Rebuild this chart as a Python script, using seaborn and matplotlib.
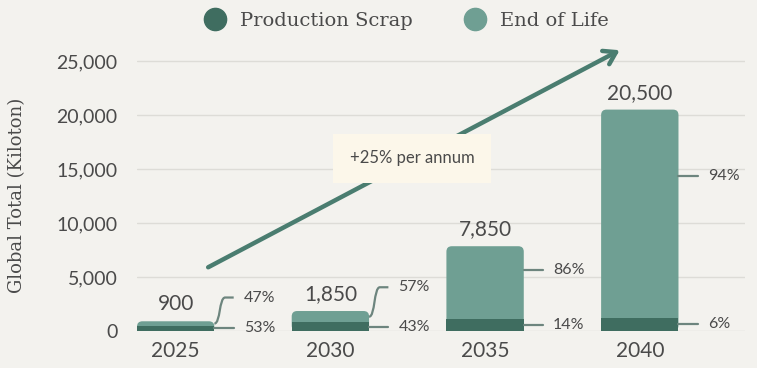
import numpy as np
import pandas as pd
import matplotlib
matplotlib.use("Agg")
import matplotlib.pyplot as plt
from matplotlib.path import Path
from matplotlib.patches import PathPatch, FancyBboxPatch
from matplotlib.lines import Line2D
import seaborn as sns

years = ["2025", "2030", "2035", "2040"]
totals = [900, 1850, 7850, 20500]
scrap = [477, 796, 1099, 1230]
scrap_pct = [53, 43, 14, 6]
eol_pct = [47, 57, 86, 94]
yticks = [0, 5000, 10000, 15000, 20000, 25000]

dark = "#3f6d60"
light = "#6f9f93"
txt = "#4a4a4a"
bg = "#f3f2ee"

df = pd.DataFrame({"year": years, "total": totals, "scrap": scrap})

sns.set_theme(style="white")
plt.rcParams["font.family"] = ["Lato", "DejaVu Sans"]

fig = plt.figure(figsize=(7.57, 3.68), dpi=100, facecolor=bg)
ax = fig.add_axes([137 / 757, 37 / 368, 608 / 757, 302.4 / 368])
ax.set_facecolor(bg)

sns.barplot(data=df, x="year", y="total", color=light, width=0.5,
            saturation=1, linewidth=0, ax=ax)
# round the top corners of the total bars
for p in list(ax.patches):
    x0, y0 = p.get_x(), p.get_y()
    w, h = p.get_width(), p.get_height()
    p.remove()
    ax.add_patch(FancyBboxPatch((x0, y0), w, h,
                                boxstyle="round,pad=0,rounding_size=0.035",
                                mutation_aspect=14300, fc=light, ec="none",
                                zorder=2))
sns.barplot(data=df, x="year", y="scrap", color=dark, width=0.5,
            saturation=1, linewidth=0, ax=ax, zorder=3)

ax.set_xlim(-0.25, 3.68)
ax.set_ylim(0, 28000)
ax.set_yticks(yticks)
ax.set_yticklabels([f"{v:,}" for v in yticks])
for y in yticks:
    ax.axhline(y, color="#dddcd7", lw=1, zorder=1)
sns.despine(ax=ax, left=True, bottom=True)
ax.tick_params(axis="y", length=0, pad=14, labelsize=14, labelcolor=txt)
ax.tick_params(axis="x", length=0, pad=7, labelsize=15, labelcolor=txt)
ax.set_xlabel("")
ax.set_ylabel("")

half = 0.25
lc = "#6d857e"
for i, (t, s, sp, ep) in enumerate(zip(totals, scrap, scrap_pct, eol_pct)):
    xr = i + half
    ax.annotate(f"{t:,}", (i, t), xytext=(0, 5), textcoords="offset points",
                ha="center", va="bottom", fontsize=15, color=txt)
    # production scrap label
    ym = s / 2
    ax.plot([xr, xr + 0.125], [ym, ym], color=lc, lw=1.6, zorder=4)
    ax.text(xr + 0.19, ym, f"{sp}%", fontsize=11.5, color=txt, va="center")
    # end of life label
    if t < 5000:
        y0 = s + (t - s) / 2
        y1 = t + 2200
        verts = [(xr, y0), (xr + 0.04, y0), (xr + 0.03, y1), (xr + 0.07, y1),
                 (xr + 0.125, y1)]
        codes = [Path.MOVETO, Path.CURVE4, Path.CURVE4, Path.CURVE4, Path.LINETO]
        ax.add_patch(PathPatch(Path(verts, codes), fill=False,
                               edgecolor=lc, lw=1.6, zorder=4))
        ax.text(xr + 0.19, y1, f"{ep}%", fontsize=11.5, color=txt, va="center")
    else:
        y1 = s + (t - s) * 0.68
        ax.plot([xr, xr + 0.125], [y1, y1], color=lc, lw=1.6, zorder=4)
        ax.text(xr + 0.19, y1, f"{ep}%", fontsize=11.5, color=txt, va="center")

# growth arrow
ax.annotate("", xy=(2.87, 26000), xytext=(0.21, 5900),
            arrowprops=dict(arrowstyle="->,head_length=0.7,head_width=0.45",
                            color="#4a7d70", lw=3.2, shrinkA=0, shrinkB=0),
            zorder=5)
ax.text(1.53, 16000, "+25% per annum", ha="center", va="center",
        fontsize=12, color=txt, zorder=6,
        bbox=dict(boxstyle="square,pad=1.0", fc="#fcf7ea", ec="none"))

# legend
handles = [Line2D([], [], marker="o", ls="", ms=16, color=dark),
           Line2D([], [], marker="o", ls="", ms=16, color=light)]
fig.legend(handles, ["Production Scrap", "End of Life"], loc="center",
           bbox_to_anchor=(402 / 757, 1 - 21 / 368), ncol=2, frameon=False,
           handletextpad=0.3, columnspacing=2.2,
           prop={"family": "DejaVu Serif", "size": 14}, labelcolor=txt)

fig.text(17 / 757, 1 - 195 / 368, "Global Total (Kiloton)", rotation=90,
         ha="center", va="center", fontsize=13, color=txt,
         family="DejaVu Serif")

fig.savefig("out.png", dpi=100, facecolor=bg)
